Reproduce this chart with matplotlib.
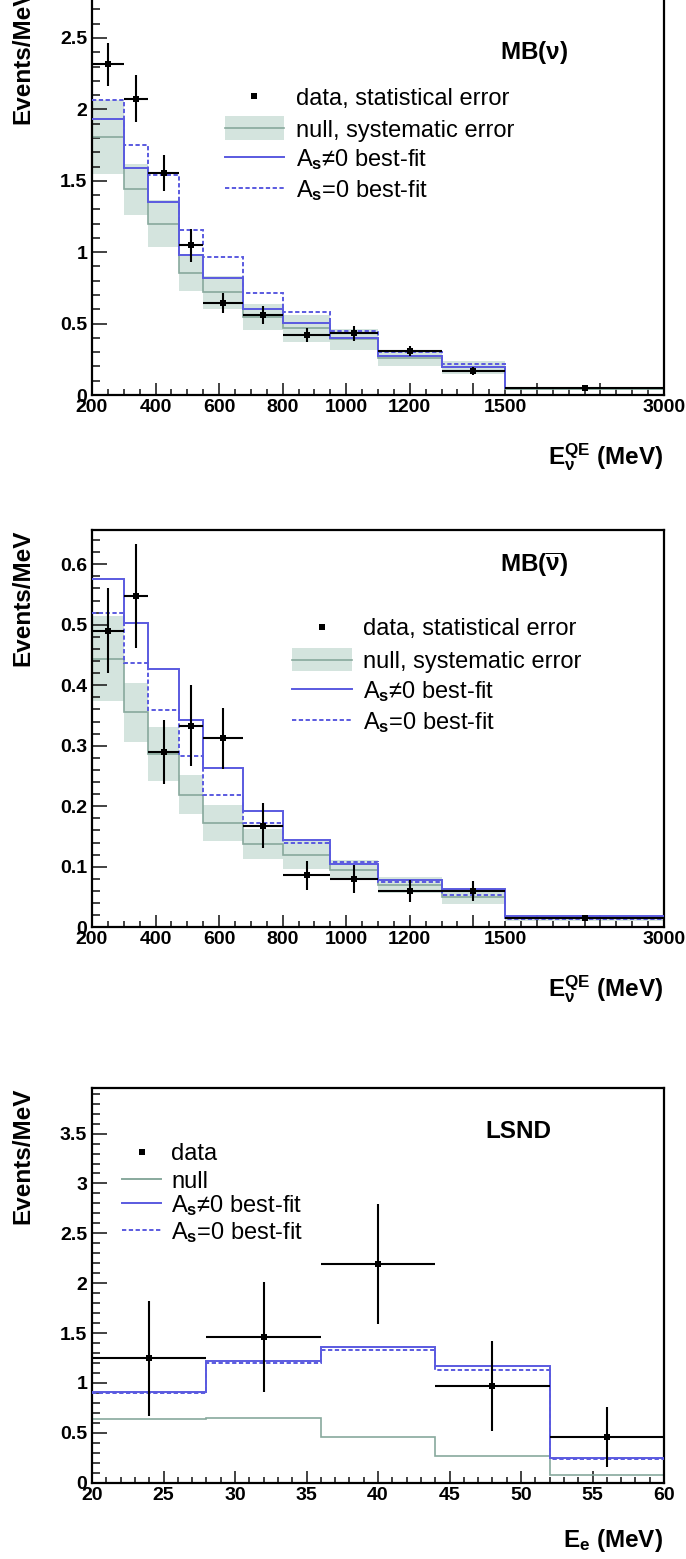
import numpy as np
import matplotlib
matplotlib.use("Agg")
import matplotlib.pyplot as plt
from matplotlib.lines import Line2D
from matplotlib.patches import Rectangle
from matplotlib.ticker import FixedLocator, MultipleLocator, FuncFormatter

plt.rcParams["font.family"] = ["Liberation Sans", "DejaVu Sans"]
plt.rcParams["font.weight"] = "bold"
plt.rcParams["axes.labelweight"] = "bold"
plt.rcParams["mathtext.fontset"] = "custom"
plt.rcParams["mathtext.rm"] = "Liberation Sans"
plt.rcParams["mathtext.it"] = "Liberation Sans:italic"
plt.rcParams["mathtext.bf"] = "Liberation Sans:bold"

W, H = 686, 1559
BLUE = "#5a5ae0"
NULLC = "#88a99d"
BAND = "#d4e4de"

# --- MiniBooNE binning (MeV) ---
mb_edges = np.array([200, 300, 375, 475, 550, 675, 800, 950, 1100, 1300, 1500, 3000])

# MB neutrino mode
nu_data = np.array([2.315, 2.075, 1.557, 1.049, 0.646, 0.559, 0.420, 0.431, 0.308, 0.168, 0.047])
nu_stat = np.array([0.15, 0.163, 0.125, 0.115, 0.07, 0.064, 0.05, 0.05, 0.035, 0.03, 0.01])
nu_null = np.array([1.805, 1.441, 1.200, 0.855, 0.718, 0.545, 0.466, 0.389, 0.26, 0.195, 0.045])
nu_sys = np.array([0.26, 0.18, 0.163, 0.13, 0.117, 0.09, 0.093, 0.072, 0.055, 0.045, 0.01])
nu_fit = np.array([1.935, 1.59, 1.354, 0.979, 0.818, 0.604, 0.503, 0.401, 0.273, 0.198, 0.047])
nu_fit0 = np.array([2.068, 1.751, 1.541, 1.154, 0.965, 0.713, 0.583, 0.450, 0.303, 0.215, 0.052])

# MB antineutrino mode
nub_data = np.array([0.490, 0.547, 0.290, 0.333, 0.312, 0.168, 0.086, 0.080, 0.060, 0.060, 0.0157])
nub_stat = np.array([0.07, 0.086, 0.053, 0.067, 0.05, 0.037, 0.024, 0.023, 0.018, 0.017, 0.004])
nub_null = np.array([0.444, 0.355, 0.286, 0.219, 0.172, 0.138, 0.119, 0.095, 0.07, 0.05, 0.015])
nub_sys = np.array([0.07, 0.048, 0.045, 0.032, 0.03, 0.025, 0.023, 0.017, 0.013, 0.012, 0.004])
nub_fit = np.array([0.575, 0.503, 0.426, 0.342, 0.263, 0.192, 0.144, 0.105, 0.078, 0.063, 0.018])
nub_fit0 = np.array([0.519, 0.437, 0.359, 0.283, 0.219, 0.172, 0.140, 0.108, 0.075, 0.053, 0.014])

# LSND
ls_edges = np.array([20, 28, 36, 44, 52, 60])
ls_data = np.array([1.246, 1.458, 2.196, 0.971, 0.460])
ls_err = np.array([0.58, 0.55, 0.60, 0.45, 0.30])
ls_null = np.array([0.635, 0.649, 0.463, 0.271, 0.076])
ls_fit = np.array([0.906, 1.218, 1.362, 1.167, 0.247])
ls_fit0 = np.array([0.900, 1.201, 1.335, 1.126, 0.237])

mb_major = [200, 400, 600, 800, 1000, 1200, 1400, 1800, 2400, 3000]
mb_labels = ["200", "400", "600", "800", "1000", "1200", "", "", "", "3000"]


def fwd(x):
    x = np.asarray(x, dtype=float)
    return np.where(x <= 1500, x, 1500 + (x - 1500) / 3.0)


def inv(y):
    y = np.asarray(y, dtype=float)
    return np.where(y <= 1500, y, 1500 + (y - 1500) * 3.0)


def fx(px):
    return px / W


def fy(py):
    return 1 - py / H


def make_axes(top, bottom):
    return fig.add_axes([fx(92), fy(bottom), 572 / W, (bottom - top) / H])


def style_axes(ax, ymax, ymajor, yminor):
    ax.set_ylim(0, ymax)
    ax.yaxis.set_major_locator(MultipleLocator(ymajor))
    ax.yaxis.set_minor_locator(MultipleLocator(yminor))
    ax.yaxis.set_major_formatter(FuncFormatter(lambda v, p: "%g" % round(v, 3)))
    ax.tick_params(axis="both", which="both", direction="in", top=False, right=False,
                   labelsize=14, width=1.2, colors="#222222", labelcolor="black")
    ax.tick_params(axis="y", which="major", length=11, pad=3.5)
    ax.tick_params(axis="y", which="minor", length=5.5)
    ax.tick_params(axis="x", which="major", length=9, pad=3)
    ax.tick_params(axis="x", which="minor", length=4.5, pad=3)
    for s in ax.spines.values():
        s.set_linewidth(1.6)
    ax.set_ylabel("Events/MeV", fontsize=17.5, fontweight="bold", loc="top")
    ax.yaxis.set_label_coords(-0.1, 1.0)


def draw_hists(ax, edges, data, err, null, fit, fit0, sys=None):
    centers = 0.5 * (edges[:-1] + edges[1:])
    half = 0.5 * (edges[1:] - edges[:-1])
    if sys is not None:
        ax.stairs(null + sys, edges, baseline=null - sys, fill=True, color=BAND, lw=0, zorder=1)
    ax.stairs(null, edges, baseline=None, color=NULLC, lw=1.2, zorder=2)
    ax.stairs(fit0, edges, baseline=None, color=BLUE, lw=1.4, ls=(0, (2.2, 1.3)), zorder=3)
    ax.stairs(fit, edges, baseline=None, color=BLUE, lw=1.4, zorder=4)
    ax.errorbar(centers, data, xerr=half, yerr=err, fmt="s", ms=4, mew=0, color="black",
                ecolor="black", elinewidth=1.5, capsize=0, zorder=5)


def draw_legend(entries, ys, xs0, xs1, xt, band_h=23):
    for (kind, label), y in zip(entries, ys):
        if kind == "data":
            fig.add_artist(Line2D([fx((xs0 + xs1) / 2)], [fy(y)], marker="s", ms=4, mew=0,
                                  color="black", transform=fig.transFigure))
        elif kind == "band":
            fig.add_artist(Rectangle((fx(xs0), fy(y + band_h / 2)), (xs1 - xs0) / W, band_h / H,
                                     facecolor=BAND, edgecolor="none", transform=fig.transFigure))
            fig.add_artist(Line2D([fx(xs0), fx(xs1)], [fy(y), fy(y)], color=NULLC, lw=1.2,
                                  transform=fig.transFigure))
        elif kind == "null":
            fig.add_artist(Line2D([fx(xs0), fx(xs1)], [fy(y), fy(y)], color=NULLC, lw=1.4,
                                  transform=fig.transFigure))
        elif kind == "fit":
            fig.add_artist(Line2D([fx(xs0), fx(xs1)], [fy(y), fy(y)], color=BLUE, lw=1.4,
                                  transform=fig.transFigure))
        elif kind == "fit0":
            fig.add_artist(Line2D([fx(xs0), fx(xs1)], [fy(y), fy(y)], color=BLUE, lw=1.4,
                                  ls=(0, (2.2, 1.3)), transform=fig.transFigure))
        fig.text(fx(xt), fy(y), label, ha="left", va="center_baseline", fontsize=17,
                 fontweight="normal")


fig = plt.figure(figsize=(W / 100, H / 100), dpi=100)
fig.patch.set_facecolor("white")

FIT_LBL = "A$_{\\mathrm{s}}$≠0 best-fit"
FIT0_LBL = "A$_{\\mathrm{s}}$=0 best-fit"

# ---------------- MiniBooNE neutrino / antineutrino ----------------
for top, bottom, ymax, ymaj, ymin, vals, title, ty, leg_y, leg_x in [
    (-12, 395, 2.85, 0.5, 0.1, (nu_data, nu_stat, nu_null, nu_fit, nu_fit0, nu_sys),
     r"MB($\mathrm{\nu}$)", 53, [96, 128, 157, 188], (225, 284, 296)),
    (530, 927.3, 0.6565, 0.1, 0.02, (nub_data, nub_stat, nub_null, nub_fit, nub_fit0, nub_sys),
     r"MB($\overline{\mathrm{\nu}}$)", 565, [627, 660, 689, 720], (292, 352, 363)),
]:
    ax = make_axes(top, bottom)
    ax.set_xscale("function", functions=(fwd, inv))
    ax.set_xlim(200, 3000)
    d, e, n, f, f0, s = vals
    draw_hists(ax, mb_edges, d, e, n, f, f0, sys=s)
    style_axes(ax, ymax, ymaj, ymin)
    ax.xaxis.set_major_locator(FixedLocator(mb_major))
    ax.xaxis.set_major_formatter(FuncFormatter(
        lambda v, p: dict(zip(mb_major, mb_labels)).get(int(round(v)), "")))
    minors = list(np.arange(200, 1501, 50)) + [1500 + 150 * k for k in range(1, 10)]
    ax.xaxis.set_minor_locator(FixedLocator(minors))
    ax.xaxis.set_minor_formatter(FuncFormatter(lambda v, p: "1500" if abs(v - 1500) < 1 else ""))
    fig.text(fx(534), fy(ty), title, ha="center", va="center", fontsize=17.5)
    fig.text(fx(663), fy(bottom + 62), r"$\mathbf{E}_{\mathrm{\nu}}^{\mathbf{QE}}$ (MeV)",
             ha="right", va="center", fontsize=17.5)
    draw_legend([("data", "data, statistical error"), ("band", "null, systematic error"),
                 ("fit", FIT_LBL), ("fit0", FIT0_LBL)], leg_y, *leg_x)

# ---------------- LSND ----------------
ax = make_axes(1087.7, 1482.7)
draw_hists(ax, ls_edges, ls_data, ls_err, ls_null, ls_fit, ls_fit0)
ax.set_xlim(20, 60)
style_axes(ax, 3.96, 0.5, 0.1)
ax.xaxis.set_major_locator(MultipleLocator(5))
ax.xaxis.set_minor_locator(MultipleLocator(1))
fig.text(fx(518), fy(1132), "LSND", ha="center", va="center", fontsize=17.5)
fig.text(fx(663), fy(1540), r"$\mathbf{E_e}$ (MeV)", ha="right", va="center", fontsize=17.5)
draw_legend([("data", "data"), ("null", "null"), ("fit", FIT_LBL), ("fit0", FIT0_LBL)],
            [1151.6, 1179, 1203, 1229.6], 122, 161, 171)

fig.savefig("out.png", dpi=100, facecolor="white")
